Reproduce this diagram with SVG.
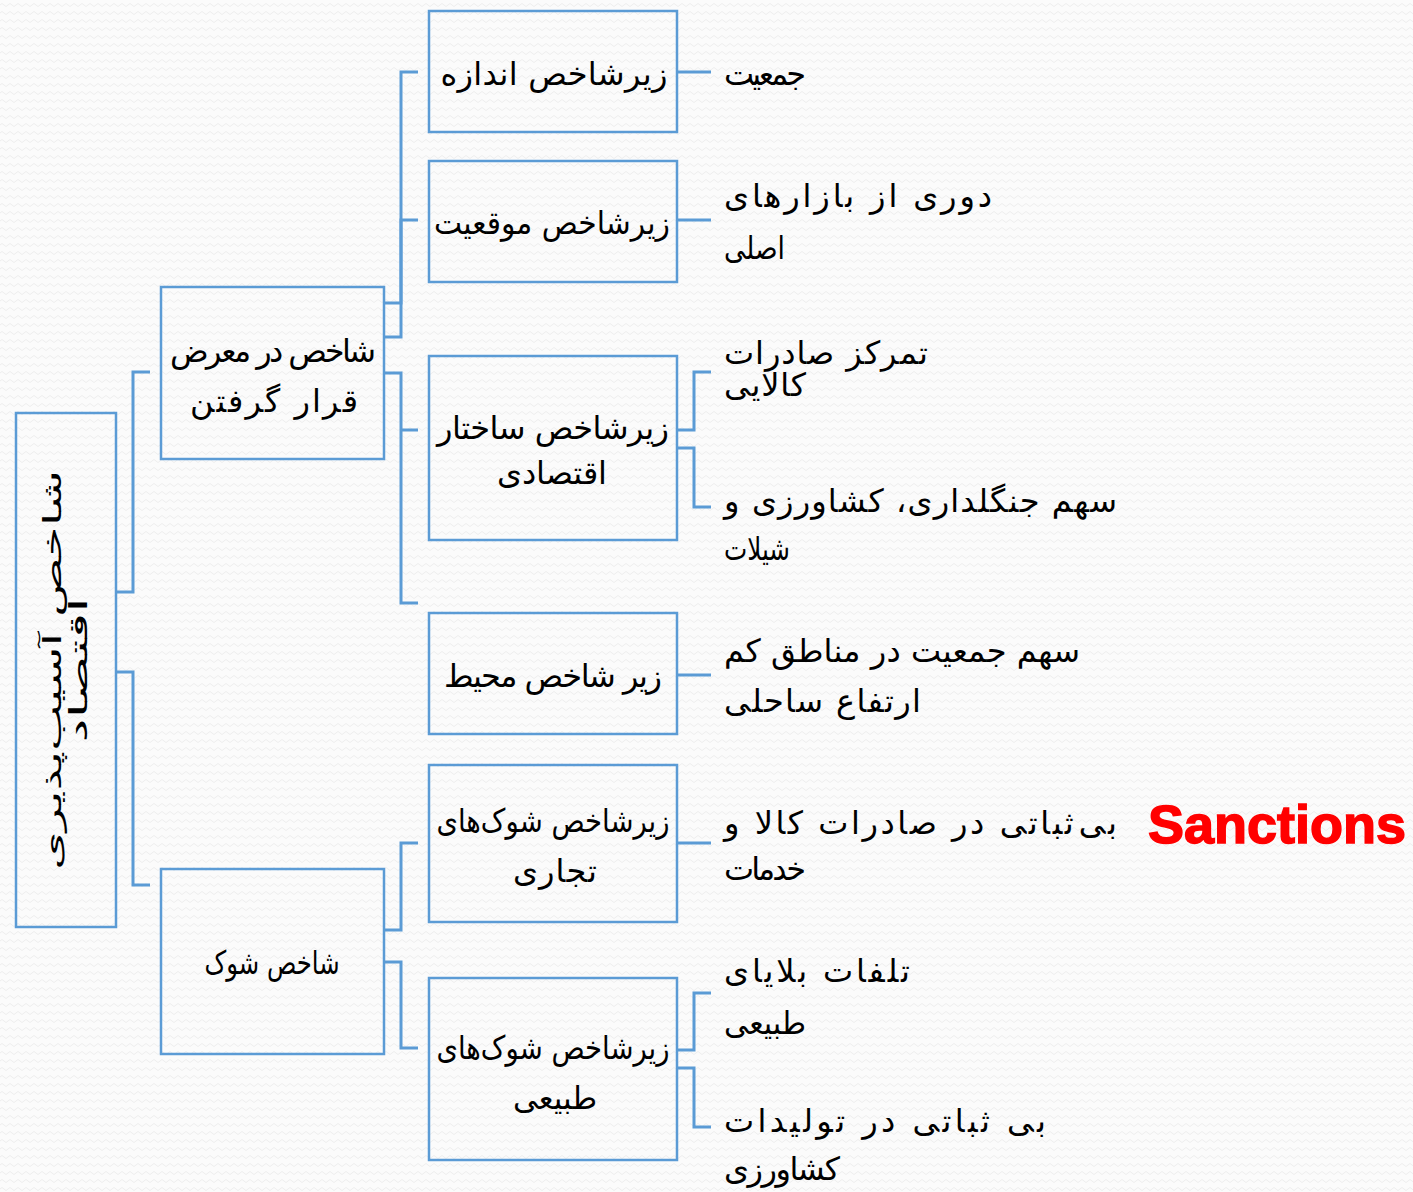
<svg xmlns="http://www.w3.org/2000/svg" width="1413" height="1192" viewBox="0 0 1413 1192">
<defs>
<pattern id="bgp" width="8" height="8" patternUnits="userSpaceOnUse">
<rect width="8" height="8" fill="#fbfbfb"/>
<path d="M0,5 Q2,2 4,5 T8,5" fill="none" stroke="#eeeeee" stroke-width="1"/>
</pattern>
<style>
.box{fill:none;stroke:#5b9bd5;stroke-width:2.5}
.con{fill:none;stroke:#5b9bd5;stroke-width:3}
.t{font-family:"DejaVu Sans",sans-serif;font-size:32px;fill:#000}
.tc{text-anchor:middle}
.tl{text-anchor:start}
.sanc{font-family:"Liberation Sans",Arial,sans-serif;font-weight:bold;font-size:54px;fill:#ff0000;stroke:#ff0000;stroke-width:1.5}
</style>
</defs>
<rect width="1413" height="1192" fill="url(#bgp)"/>

<g id="connectors">
<path class="con" d="M116,592 H133 V372 H150"/>
<path class="con" d="M116,672 H133 V885 H150"/>
<path class="con" d="M384,303 H401 V72 H418"/>
<path class="con" d="M384,337 H401 V220 H418"/>
<path class="con" d="M384,373 H401 V603 H418"/>
<path class="con" d="M401,430 H418"/>
<path class="con" d="M384,930 H401 V843 H418"/>
<path class="con" d="M384,962 H401 V1048 H418"/>
<path class="con" d="M677,72 H711"/>
<path class="con" d="M677,220 H711"/>
<path class="con" d="M677,430 H694 V372 H711"/>
<path class="con" d="M677,448 H694 V507 H711"/>
<path class="con" d="M677,675 H711"/>
<path class="con" d="M677,843 H711"/>
<path class="con" d="M677,1050 H694 V993 H711"/>
<path class="con" d="M677,1068 H694 V1127 H711"/>
</g>

<g id="root">
<rect class="box" x="16" y="413" width="100" height="514"/>
<g transform="translate(66,670) rotate(-90)">
<text class="t tc" x="0" y="-5" style="font-size:25px" textLength="400" lengthAdjust="spacingAndGlyphs">شاخص آسیب‌پذیری</text>
<text class="t tc" x="0" y="21" style="font-size:25px" textLength="145" lengthAdjust="spacingAndGlyphs">اقتصاد</text>
</g>
</g>

<g id="exposure">
<rect class="box" x="161" y="287" width="223" height="172"/>
<text class="t tc" x="273" y="362" textLength="206" lengthAdjust="spacing">شاخص در معرض</text>
<text class="t tc" x="274" y="412" textLength="168" lengthAdjust="spacing">قرار گرفتن</text>
</g>

<g id="shock">
<rect class="box" x="161" y="869" width="223" height="185"/>
<text class="t tc" x="272" y="974" textLength="135" lengthAdjust="spacingAndGlyphs">شاخص شوک</text>
</g>

<g id="size">
<rect class="box" x="429" y="11" width="248" height="121"/>
<text class="t tc" x="554" y="85" textLength="227" lengthAdjust="spacing">زیرشاخص اندازه</text>
</g>

<g id="location">
<rect class="box" x="429" y="161" width="248" height="121"/>
<text class="t tc" x="552" y="234" textLength="236" lengthAdjust="spacingAndGlyphs">زیرشاخص موقعیت</text>
</g>

<g id="structure">
<rect class="box" x="429" y="356" width="248" height="184"/>
<text class="t tc" x="553" y="439" textLength="232" lengthAdjust="spacing">زیرشاخص ساختار</text>
<text class="t tc" x="552" y="484" textLength="110" lengthAdjust="spacing">اقتصادی</text>
</g>

<g id="environment">
<rect class="box" x="429" y="613" width="248" height="121"/>
<text class="t tc" x="553" y="687" textLength="218" lengthAdjust="spacing">زیر شاخص محیط</text>
</g>

<g id="trade">
<rect class="box" x="429" y="765" width="248" height="157"/>
<text class="t tc" x="553" y="832" textLength="233" lengthAdjust="spacingAndGlyphs">زیرشاخص شوک‌های</text>
<text class="t tc" x="555" y="882" textLength="84" lengthAdjust="spacing">تجاری</text>
</g>

<g id="natural">
<rect class="box" x="429" y="978" width="248" height="182"/>
<text class="t tc" x="553" y="1059" textLength="233" lengthAdjust="spacingAndGlyphs">زیرشاخص شوک‌های</text>
<text class="t tc" x="555" y="1109" textLength="84" lengthAdjust="spacingAndGlyphs">طبیعی</text>
</g>

<g id="leaf-population">
<text class="t tl" x="724" y="85" textLength="82" lengthAdjust="spacing">جمعیت</text>
</g>
<g id="leaf-distance">
<text class="t tl" x="724" y="207" textLength="268" lengthAdjust="spacing">دوری از بازارهای</text>
<text class="t tl" x="724" y="259" textLength="61" lengthAdjust="spacingAndGlyphs">اصلی</text>
</g>
<g id="leaf-concentration">
<text class="t tl" x="724" y="364" textLength="204" lengthAdjust="spacing">تمرکز صادرات</text>
<text class="t tl" x="724" y="396" textLength="82" lengthAdjust="spacing">کالایی</text>
</g>
<g id="leaf-agriculture">
<text class="t tl" x="724" y="512" textLength="393" lengthAdjust="spacing">سهم جنگلداری، کشاورزی و</text>
<text class="t tl" x="724" y="560" textLength="66" lengthAdjust="spacingAndGlyphs">شیلات</text>
</g>
<g id="leaf-lowcoast">
<text class="t tl" x="724" y="662" textLength="356" lengthAdjust="spacing">سهم جمعیت در مناطق کم</text>
<text class="t tl" x="724" y="712" textLength="197" lengthAdjust="spacing">ارتفاع ساحلی</text>
</g>
<g id="leaf-exports">
<text class="t tl" x="724" y="834" textLength="393" lengthAdjust="spacing">بی‌ثباتی در صادرات کالا و</text>
<text class="t tl" x="724" y="880" textLength="82" lengthAdjust="spacing">خدمات</text>
</g>
<g id="leaf-disasters">
<text class="t tl" x="724" y="982" textLength="186" lengthAdjust="spacing">تلفات بلایای</text>
<text class="t tl" x="724" y="1034" textLength="82" lengthAdjust="spacingAndGlyphs">طبیعی</text>
</g>
<g id="leaf-agrioutput">
<text class="t tl" x="724" y="1132" textLength="322" lengthAdjust="spacing">بی ثباتی در تولیدات</text>
<text class="t tl" x="724" y="1180" textLength="116" lengthAdjust="spacing">کشاورزی</text>
</g>

<g id="sanctions">
<text class="sanc" x="1148" y="843">Sanctions</text>
</g>
</svg>
